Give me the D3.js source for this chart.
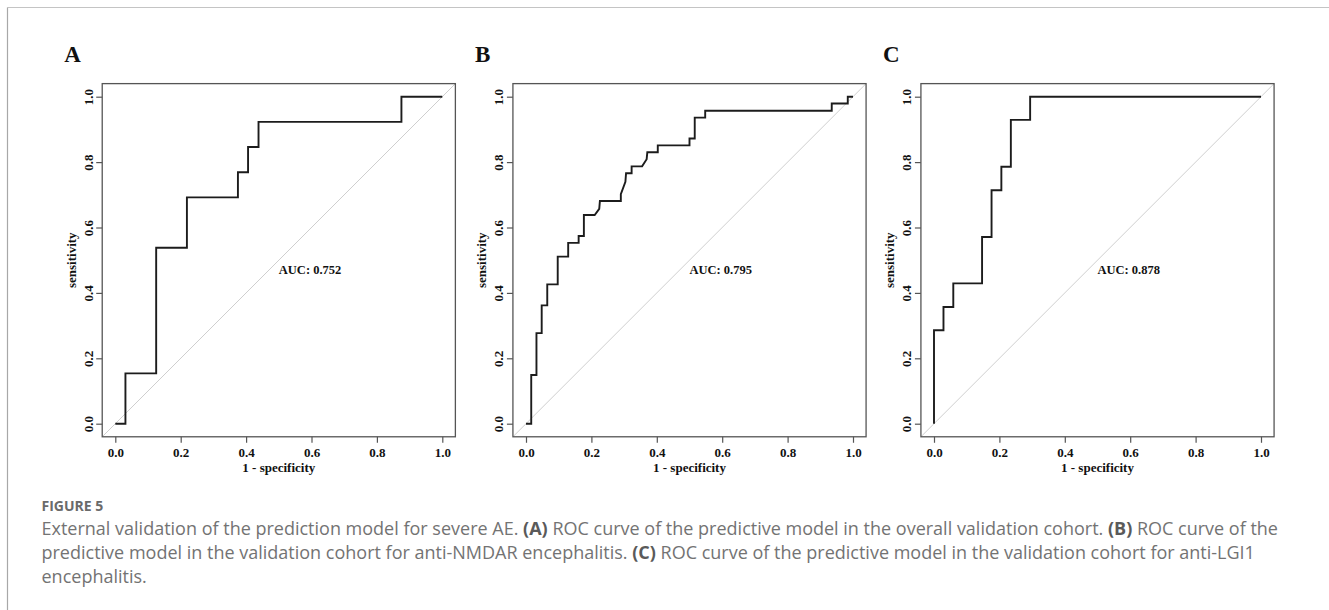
<!DOCTYPE html>
<html>
<head>
<meta charset="utf-8">
<script src="https://cdn.jsdelivr.net/npm/d3@7"></script>
<style>
  body { margin: 0; background: #fff; }
  svg { display: block; }
</style>
</head>
<body>
<svg id="chart" width="1329" height="610"></svg>
<script>
// ROC curves (1 - specificity, sensitivity)
var panelLabels = ["A", "B", "C"];
var aucLabels = ["AUC: 0.752", "AUC: 0.795", "AUC: 0.878"];

var fprA = [0, 0.031, 0.031, 0.125, 0.125, 0.219, 0.219, 0.375, 0.375, 0.406, 0.406, 0.438, 0.438, 0.875, 0.875, 1];
var tprA = [0, 0, 0.154, 0.154, 0.538, 0.538, 0.692, 0.692, 0.769, 0.769, 0.846, 0.846, 0.923, 0.923, 1, 1];

var fprB = [0, 0.016, 0.016, 0.032, 0.032, 0.048, 0.048, 0.065, 0.065, 0.097, 0.097, 0.129, 0.129, 0.161, 0.161, 0.177, 0.177, 0.210, 0.224, 0.226, 0.290, 0.290, 0.304, 0.306, 0.323, 0.323, 0.355, 0.369, 0.371, 0.403, 0.403, 0.500, 0.500, 0.516, 0.516, 0.548, 0.548, 0.935, 0.935, 0.984, 0.984, 1];
var tprB = [0, 0, 0.149, 0.149, 0.277, 0.277, 0.362, 0.362, 0.426, 0.426, 0.511, 0.511, 0.553, 0.553, 0.574, 0.574, 0.638, 0.638, 0.657, 0.681, 0.681, 0.702, 0.740, 0.766, 0.766, 0.787, 0.787, 0.809, 0.830, 0.830, 0.851, 0.851, 0.872, 0.872, 0.936, 0.936, 0.957, 0.957, 0.979, 0.979, 1, 1];

var fprC = [0, 0, 0.029, 0.029, 0.059, 0.059, 0.147, 0.147, 0.176, 0.176, 0.206, 0.206, 0.235, 0.235, 0.294, 0.294, 1];
var tprC = [0, 0.286, 0.286, 0.357, 0.357, 0.429, 0.429, 0.571, 0.571, 0.714, 0.714, 0.786, 0.786, 0.929, 0.929, 1, 1];

var tickValues = [0, 0.2, 0.4, 0.6, 0.8, 1.0];
var tickLabels = ["0.0", "0.2", "0.4", "0.6", "0.8", "1.0"];
var xTitle = "1 - specificity";
var yTitle = "sensitivity";

var captionHead = "FIGURE 5";
var captionLines = [
  [["External validation of the prediction model for severe AE. ", 0], ["(A)", 1], [" ROC curve of the predictive model in the overall validation cohort. ", 0], ["(B)", 1], [" ROC curve of the", 0]],
  [["predictive model in the validation cohort for anti-NMDAR encephalitis. ", 0], ["(C)", 1], [" ROC curve of the predictive model in the validation cohort for anti-LGI1", 0]],
  [["encephalitis.", 0]]
];

var curves = [
  {fpr: fprA, tpr: tprA},
  {fpr: fprB, tpr: tprB},
  {fpr: fprC, tpr: tprC}
];

var svg = d3.select("#chart");
var serif = "'Liberation Serif', 'Times New Roman', serif";

// page frame
svg.append("line").attr("x1", 7.5).attr("y1", 7.5).attr("x2", 1329).attr("y2", 7.5)
  .attr("stroke", "#c4c4c4").attr("stroke-width", 1.2);
svg.append("line").attr("x1", 7.5).attr("y1", 7.5).attr("x2", 7.5).attr("y2", 610)
  .attr("stroke", "#a8a8a8").attr("stroke-width", 1.2);

var panelLeft = [115.3, 526, 934];   // pixel position of x = 0 in each panel
var unit = 327;                      // pixels per unit on both axes
var yZero = 423.7;

curves.forEach(function(c, i) {
  var x = d3.scaleLinear().domain([-0.04, 1.04])
    .range([panelLeft[i] - 0.04 * unit, panelLeft[i] + 1.04 * unit]);
  var y = d3.scaleLinear().domain([-0.04, 1.04])
    .range([yZero + 0.04 * unit, yZero - 1.04 * unit]);

  var g = svg.append("g");
  var clipId = "clip" + i;
  g.append("clipPath").attr("id", clipId).append("rect")
    .attr("x", x(-0.04)).attr("y", y(1.04))
    .attr("width", x(1.04) - x(-0.04)).attr("height", y(-0.04) - y(1.04));

  // identity line
  g.append("line")
    .attr("clip-path", "url(#" + clipId + ")")
    .attr("x1", x(-0.04)).attr("y1", y(-0.04))
    .attr("x2", x(1.04)).attr("y2", y(1.04))
    .attr("stroke", "#cfcfcf").attr("stroke-width", 1);

  // roc curve
  var pts = c.fpr.map(function(v, k) { return [v, c.tpr[k]]; });
  var line = d3.line().x(function(d) { return x(d[0]); }).y(function(d) { return y(d[1]); });
  g.append("path").datum(pts)
    .attr("d", line)
    .attr("fill", "none")
    .attr("stroke", "#1c1c1c")
    .attr("stroke-width", 1.9)
    .attr("stroke-linejoin", "miter");

  // box
  g.append("rect")
    .attr("x", x(-0.04)).attr("y", y(1.04))
    .attr("width", x(1.04) - x(-0.04)).attr("height", y(-0.04) - y(1.04))
    .attr("fill", "none").attr("stroke", "#555").attr("stroke-width", 1.3);

  // axes
  var xAxis = d3.axisBottom(x).tickValues(tickValues)
    .tickFormat(function(d, k) { return tickLabels[k]; })
    .tickSize(6).tickPadding(3).tickSizeOuter(0);
  var gx = g.append("g").attr("transform", "translate(0," + y(-0.04) + ")").call(xAxis);

  var yAxis = d3.axisLeft(y).tickValues(tickValues)
    .tickFormat(function(d, k) { return tickLabels[k]; })
    .tickSize(6).tickPadding(3).tickSizeOuter(0);
  var gy = g.append("g").attr("transform", "translate(" + x(-0.04) + ",0)").call(yAxis);

  [gx, gy].forEach(function(a) {
    a.select(".domain").remove();
    a.selectAll(".tick line").attr("stroke", "#555").attr("stroke-width", 1.2);
    a.selectAll(".tick text")
      .attr("font-family", serif).attr("font-weight", "bold")
      .attr("font-size", 13).attr("fill", "#111");
  });
  gx.selectAll(".tick text").attr("dy", null).attr("y", 20);
  gy.selectAll(".tick text")
    .attr("text-anchor", "middle")
    .attr("dy", null)
    .attr("x", 0).attr("y", 0)
    .attr("transform", "translate(-14,0) rotate(-90)")
    .attr("dominant-baseline", "central");

  // axis titles
  g.append("text")
    .attr("x", x(0.5)).attr("y", yZero + 48.5)
    .attr("text-anchor", "middle")
    .attr("font-family", serif).attr("font-weight", "bold").attr("font-size", 13)
    .attr("fill", "#111")
    .text(xTitle);
  g.append("text")
    .attr("transform", "translate(" + (x(-0.04) - 31) + "," + y(0.5) + ") rotate(-90)")
    .attr("text-anchor", "middle")
    .attr("dominant-baseline", "central")
    .attr("font-family", serif).attr("font-weight", "bold").attr("font-size", 13)
    .attr("fill", "#111")
    .text(yTitle);

  // auc
  g.append("text")
    .attr("x", x(0.5)).attr("y", y(0.5) + 13.5)
    .attr("font-family", serif).attr("font-weight", "bold").attr("font-size", 12.5)
    .attr("fill", "#111")
    .text(aucLabels[i]);

  // panel letter
  g.append("text")
    .attr("x", x(-0.04) - 38).attr("y", 61.7)
    .attr("font-family", serif).attr("font-weight", "bold").attr("font-size", 23)
    .attr("fill", "#111")
    .text(panelLabels[i]);
});

// caption
var sans = "'Open Sans', 'Noto Sans', sans-serif";
svg.append("text")
  .attr("x", 41.5).attr("y", 510.5)
  .attr("font-family", sans).attr("font-weight", "bold").attr("font-size", 14)
  .attr("fill", "#6a6a6a")
  .text(captionHead);

var lineY = [535, 559, 583];
captionLines.forEach(function(parts, i) {
  var t = svg.append("text")
    .attr("x", 41.5).attr("y", lineY[i])
    .attr("font-family", sans).attr("font-size", 18)
    .attr("fill", "#737373");
  parts.forEach(function(p) {
    t.append("tspan")
      .attr("font-weight", p[1] ? "bold" : "normal")
      .attr("fill", p[1] ? "#5a5a5a" : "#737373")
      .text(p[0]);
  });
});
</script>
</body>
</html>
